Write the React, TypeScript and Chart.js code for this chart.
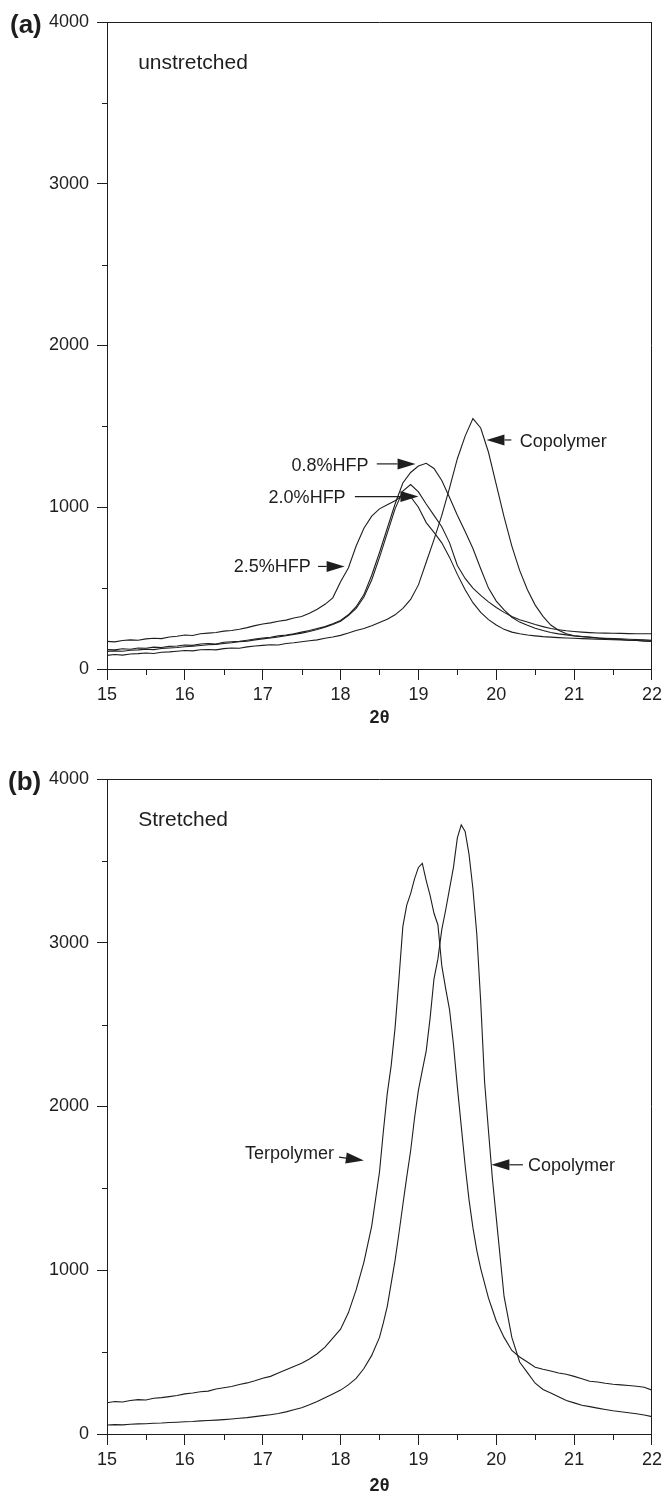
import React, { useEffect, useRef } from "react";
import { Chart, registerables } from "chart.js";

Chart.register(...registerables);

const FONT = '"Liberation Sans", Arial, Helvetica, sans-serif';
const INK = "#1e1e1e";

// ---------- Panel (a): unstretched ----------
const thetaA = [
  15.0, 15.1, 15.2, 15.3, 15.4, 15.5, 15.6, 15.7, 15.8, 15.9,
  16.0, 16.1, 16.2, 16.3, 16.4, 16.5, 16.6, 16.7, 16.8, 16.9,
  17.0, 17.1, 17.2, 17.3, 17.4, 17.5, 17.6, 17.7, 17.8, 17.9,
  18.0, 18.1, 18.2, 18.3, 18.4, 18.5, 18.6, 18.7, 18.8, 18.9,
  19.0, 19.1, 19.2, 19.3, 19.4, 19.5, 19.6, 19.7, 19.8, 19.9,
  20.0, 20.1, 20.2, 20.3, 20.4, 20.5, 20.6, 20.7, 20.8, 20.9,
  21.0, 21.1, 21.2, 21.3, 21.4, 21.5, 21.6, 21.7, 21.8, 21.9, 22.0,
];

const copolymerA = [
  84, 90, 86, 93, 95, 99, 96, 104, 106, 110,
  114, 112, 119, 121, 118, 126, 130, 128, 137, 142,
  146, 150, 148, 158, 162, 168, 175, 180, 190, 198,
  208, 222, 238, 250, 268, 288, 308, 335, 375, 430,
  520, 660, 800, 950, 1120, 1300, 1440, 1548, 1490, 1340,
  1140, 940, 760, 610, 490, 395, 325, 272, 240, 218,
  206, 200, 196, 190, 188, 184, 182, 178, 176, 172, 170,
];

const hfp08A = [
  120, 118, 125, 122, 130, 128, 135, 133, 140, 142,
  148, 146, 155, 158, 155, 165, 168, 172, 178, 185,
  192, 196, 205, 210, 218, 228, 238, 250, 262, 280,
  300, 335, 385, 460, 580, 720, 870, 1020, 1150, 1215,
  1255, 1272, 1240, 1165, 1060, 950, 850, 745, 620, 500,
  420, 365, 320, 290, 270, 252, 238, 226, 217, 211,
  205, 201, 197, 193, 190, 188, 186, 184, 182, 180, 178,
];

const hfp20A = [
  109, 112, 110, 116, 118, 122, 120, 127, 130, 133,
  138, 141, 145, 150, 152, 158, 162, 168, 172, 180,
  186, 192, 198, 206, 214, 222, 232, 244, 258, 275,
  295, 330, 375, 445, 550, 690, 840, 990, 1100, 1140,
  1095, 1020, 950, 880, 780, 640, 560, 500, 455, 415,
  380, 350, 325, 305, 290, 275, 262, 250, 243, 236,
  232, 228, 225, 223, 222, 221, 220, 219, 218, 218, 218,
];

const hfp25A = [
  171, 168, 176, 180, 178, 186, 190, 188, 198, 202,
  210, 207, 218, 222, 226, 234, 238, 246, 256, 268,
  278, 285, 295, 302, 315, 325, 345, 370, 400, 440,
  540, 625, 760, 870, 945, 990, 1015, 1040, 1075, 1065,
  1000, 905, 845, 780, 690, 585, 490, 410, 350, 305,
  272, 245, 228, 218, 210, 205, 200, 197, 194, 192,
  190, 188, 186, 184, 182, 181, 179, 178, 176, 175, 174,
];

// ---------- Panel (b): stretched ----------
const thetaB = [
  15.0, 15.1, 15.2, 15.3, 15.4, 15.5, 15.6, 15.7, 15.8, 15.9,
  16.0, 16.1, 16.2, 16.3, 16.4, 16.5, 16.6, 16.7, 16.8, 16.9,
  17.0, 17.1, 17.2, 17.3, 17.4, 17.5, 17.6, 17.7, 17.8, 17.9,
  18.0, 18.1, 18.2, 18.3, 18.4, 18.5,
  18.55, 18.6, 18.65, 18.7, 18.75, 18.8, 18.85, 18.9, 18.95, 19.0,
  19.05, 19.1, 19.15, 19.2, 19.25, 19.3, 19.35, 19.4, 19.45, 19.5,
  19.55, 19.6, 19.65, 19.7, 19.75, 19.8, 19.85, 19.9, 19.95,
  20.0, 20.1, 20.2, 20.3, 20.4, 20.5, 20.6, 20.7, 20.8, 20.9,
  21.0, 21.1, 21.2, 21.3, 21.4, 21.5, 21.6, 21.7, 21.8, 21.9, 22.0,
];

const terpolymerB = [
  191, 198, 195, 205, 210, 208, 218, 222, 228, 235,
  245, 250, 258, 262, 275, 282, 290, 302, 312, 325,
  340, 352, 372, 392, 412, 432, 458, 490, 530, 585,
  640, 740, 880, 1050, 1270, 1600,
  1850, 2080, 2250, 2480, 2780, 3100, 3230, 3300, 3390, 3460,
  3485, 3380, 3290, 3180, 3110, 2860, 2720, 2590, 2380, 2120,
  1880, 1640, 1430, 1260, 1120, 1010, 920, 830, 760,
  690, 590, 510, 470, 440, 408, 395, 385, 372, 365,
  352, 338, 322, 318, 310, 304, 300, 296, 292, 286, 268,
];

const copolymerB = [
  55, 57, 56, 60, 62, 63, 66, 67, 70, 72,
  75, 76, 80, 82, 85, 88, 92, 96, 100, 106,
  112, 118, 125, 135, 148, 160, 178, 198, 222, 245,
  268, 300, 340, 400, 480, 590,
  680, 780, 920, 1060, 1226, 1400, 1570, 1730, 1930, 2100,
  2220, 2340, 2540, 2780, 2900, 3080, 3200, 3330, 3460, 3640,
  3720, 3680, 3540, 3330, 3050, 2640, 2150, 1850, 1560,
  1320, 840, 590, 440, 375, 310, 272, 250, 228, 205,
  190, 176, 167, 158, 150, 142, 136, 130, 124, 116, 106,
];

// ---------- ticks ----------
const yMin = 0;
const yMax = 4000;
const yStep = 1000;
const yMinorTicks = [500, 1500, 2500, 3500];
const xMin = 15;
const xMax = 22;
const xStep = 1;
const xMinorTicks = [15.5, 16.5, 17.5, 18.5, 19.5, 20.5, 21.5];

// ---------- annotations (data coordinates) ----------
type Note = { text: string; x: number; y: number; align: "left" | "right"; size: number };
type Arrow = { x1: number; y1: number; x2: number; y2: number };

const notesA: Note[] = [
  { text: "unstretched", x: 15.4, y: 3712, align: "left", size: 21 },
  { text: "0.8%HFP", x: 18.36, y: 1227, align: "right", size: 18 },
  { text: "2.0%HFP", x: 18.065, y: 1029, align: "right", size: 18 },
  { text: "2.5%HFP", x: 17.618, y: 597, align: "right", size: 18 },
  { text: "Copolymer", x: 20.3, y: 1375, align: "left", size: 18 },
];
const arrowsA: Arrow[] = [
  { x1: 18.465, y1: 1268, x2: 18.963, y2: 1268 },
  { x1: 18.184, y1: 1066, x2: 19.0, y2: 1066 },
  { x1: 17.711, y1: 634, x2: 18.052, y2: 634 },
  { x1: 20.193, y1: 1416, x2: 19.874, y2: 1416 },
];

const notesB: Note[] = [
  { text: "Stretched", x: 15.4, y: 3711, align: "left", size: 21 },
  { text: "Terpolymer", x: 17.916, y: 1678, align: "right", size: 18 },
  { text: "Copolymer", x: 20.406, y: 1609, align: "left", size: 18 },
];
const arrowsB: Arrow[] = [
  { x1: 17.98, y1: 1691, x2: 18.299, y2: 1670 },
  { x1: 20.342, y1: 1644, x2: 19.937, y2: 1644 },
];

function toXY(xs: number[], ys: number[]) {
  return xs.map((x, i) => ({ x, y: ys[i] }));
}

function makePlugin(notes: Note[], arrows: Arrow[]) {
  return {
    id: "frameNotes",
    afterDraw(chart: any) {
      const { ctx, chartArea: a } = chart;
      const xs = chart.scales.x;
      const ys = chart.scales.y;
      ctx.save();
      ctx.strokeStyle = INK;
      ctx.lineWidth = 1;
      ctx.beginPath();
      ctx.moveTo(a.left, Math.round(a.top) + 0.5);
      ctx.lineTo(a.right, Math.round(a.top) + 0.5);
      ctx.moveTo(Math.round(a.right) - 0.5, a.top);
      ctx.lineTo(Math.round(a.right) - 0.5, a.bottom);
      for (const v of yMinorTicks) {
        const py = Math.round(ys.getPixelForValue(v)) + 0.5;
        ctx.moveTo(a.left - 5, py);
        ctx.lineTo(a.left, py);
      }
      for (const v of xMinorTicks) {
        const px = Math.round(xs.getPixelForValue(v)) + 0.5;
        ctx.moveTo(px, a.bottom);
        ctx.lineTo(px, a.bottom + 6);
      }
      ctx.stroke();

      ctx.fillStyle = INK;
      ctx.textBaseline = "alphabetic";
      for (const n of notes) {
        ctx.font = `${n.size}px ${FONT}`;
        ctx.textAlign = n.align;
        ctx.fillText(n.text, xs.getPixelForValue(n.x), ys.getPixelForValue(n.y));
      }
      for (const r of arrows) {
        const x1 = xs.getPixelForValue(r.x1);
        const y1 = ys.getPixelForValue(r.y1);
        const x2 = xs.getPixelForValue(r.x2);
        const y2 = ys.getPixelForValue(r.y2);
        const ang = Math.atan2(y2 - y1, x2 - x1);
        const head = 18;
        const half = 5.5;
        const bx = x2 - head * Math.cos(ang);
        const by = y2 - head * Math.sin(ang);
        ctx.beginPath();
        ctx.lineWidth = 1.2;
        ctx.moveTo(x1, y1);
        ctx.lineTo(bx, by);
        ctx.stroke();
        ctx.beginPath();
        ctx.moveTo(x2, y2);
        ctx.lineTo(bx + half * Math.sin(ang), by - half * Math.cos(ang));
        ctx.lineTo(bx - half * Math.sin(ang), by + half * Math.cos(ang));
        ctx.closePath();
        ctx.fill();
      }
      ctx.restore();
    },
  };
}

type PanelProps = {
  top: number;
  height: number;
  padTop: number;
  xAxisHeight: number;
  titlePadBottom: number;
  series: { x: number[]; y: number[] }[];
  notes: Note[];
  arrows: Arrow[];
};

function Panel(p: PanelProps) {
  const ref = useRef<HTMLCanvasElement | null>(null);
  useEffect(() => {
    if (!ref.current) return;
    const tickFont = { family: FONT, size: 18 };
    const chart = new Chart(ref.current, {
      type: "line",
      data: {
        datasets: p.series.map((s) => ({
          data: toXY(s.x, s.y),
          borderColor: INK,
          borderWidth: 1.1,
          pointRadius: 0,
          tension: 0,
          fill: false,
        })),
      },
      options: {
        responsive: false,
        animation: false,
        devicePixelRatio: 1,
        layout: { padding: { top: p.padTop, right: 11, left: 0, bottom: 0 } },
        plugins: { legend: { display: false }, tooltip: { enabled: false } },
        scales: {
          x: {
            type: "linear",
            min: xMin,
            max: xMax,
            ticks: {
              stepSize: xStep,
              font: tickFont,
              color: INK,
              padding: 4,
              maxRotation: 0,
              callback: (v: any) => String(v),
            },
            grid: { drawOnChartArea: false, tickLength: 11, color: INK },
            border: { color: INK, width: 1 },
            title: {
              display: true,
              text: "2θ",
              color: INK,
              font: { family: FONT, size: 18, weight: "bold" },
              padding: { top: 0, bottom: p.titlePadBottom },
            },
            afterFit: (s: any) => {
              s.height = p.xAxisHeight;
            },
          },
          y: {
            type: "linear",
            min: yMin,
            max: yMax,
            ticks: {
              stepSize: yStep,
              font: tickFont,
              color: INK,
              padding: 8,
              callback: (v: any) => String(v),
            },
            grid: { drawOnChartArea: false, tickLength: 10, color: INK },
            border: { color: INK, width: 1 },
            afterFit: (s: any) => {
              s.width = 107;
            },
          },
        },
      },
      plugins: [makePlugin(p.notes, p.arrows)],
    } as any);
    return () => chart.destroy();
  }, []);
  return (
    <canvas
      ref={ref}
      width={666}
      height={p.height}
      style={{ position: "absolute", left: 0, top: p.top, width: 666, height: p.height }}
    />
  );
}

const labelStyle: React.CSSProperties = {
  position: "absolute",
  fontFamily: FONT,
  fontWeight: "bold",
  fontSize: 26,
  lineHeight: "26px",
  color: INK,
};

export default function App() {
  return (
    <div style={{ position: "absolute", left: 0, top: 0, width: 666, height: 1500, background: "#fff" }}>
      <Panel
        top={0}
        height={740}
        padTop={22}
        xAxisHeight={71}
        titlePadBottom={11}
        series={[
          { x: thetaA, y: hfp25A },
          { x: thetaA, y: hfp20A },
          { x: thetaA, y: hfp08A },
          { x: thetaA, y: copolymerA },
        ]}
        notes={notesA}
        arrows={arrowsA}
      />
      <Panel
        top={740}
        height={760}
        padTop={39}
        xAxisHeight={66}
        titlePadBottom={3}
        series={[
          { x: thetaB, y: terpolymerB },
          { x: thetaB, y: copolymerB },
        ]}
        notes={notesB}
        arrows={arrowsB}
      />
      <div style={{ ...labelStyle, left: 10, top: 11 }}>(a)</div>
      <div style={{ ...labelStyle, left: 8, top: 768 }}>(b)</div>
    </div>
  );
}
